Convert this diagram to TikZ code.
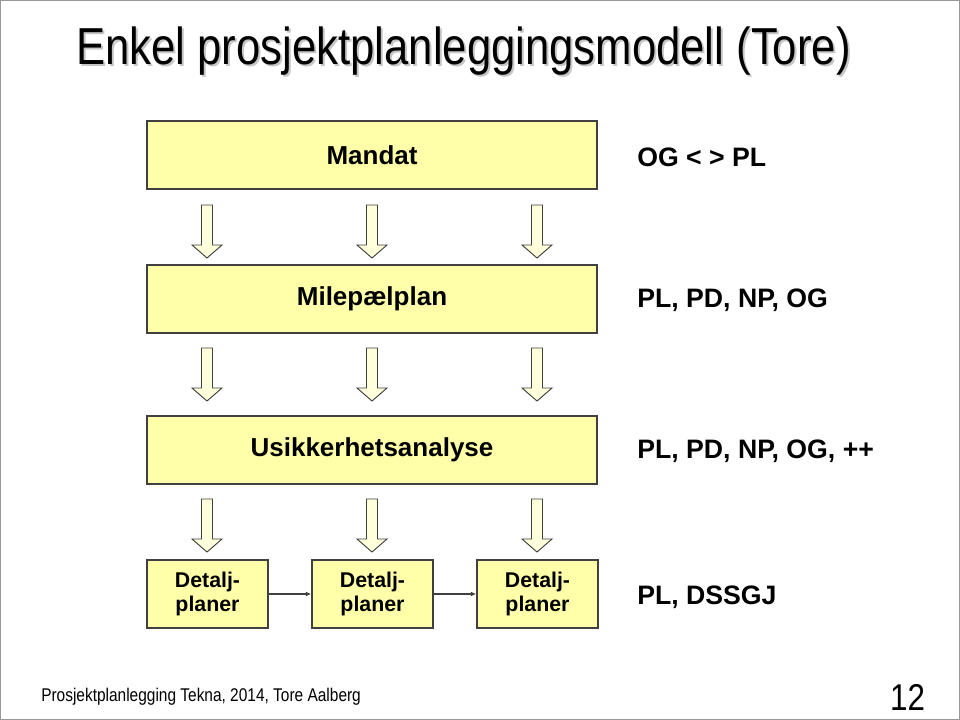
\documentclass[tikz,border=0pt]{standalone}
\usepackage{fontspec}
\setmainfont{Liberation Sans}
\newfontfamily\narrowfont[FakeStretch=0.84]{Liberation Sans}
\usetikzlibrary{arrows.meta,calc}
\definecolor{boxfill}{HTML}{FFFFAA}
\definecolor{arrowfill}{HTML}{FFFFDC}
\definecolor{edgegray}{HTML}{404040}
\begin{document}
\begin{tikzpicture}[x=0.75pt,y=-0.75pt,
  planbox/.style={draw=edgegray,line width=1.1pt,fill=boxfill,inner sep=0pt,
    minimum width=337.5pt,minimum height=51pt,
    font=\fontsize{19.5}{21}\selectfont\bfseries},
  smallbox/.style={planbox,minimum width=90.75pt,align=center,
    font=\fontsize{16}{18.5}\selectfont\bfseries},
  rolelabel/.style={anchor=west,inner sep=0pt,font=\fontsize{20}{22}\selectfont\bfseries},
  flow/.style={draw=edgegray,line width=0.9pt,-{Latex[length=4pt,width=3.5pt]}},
  blockarrow/.pic={\draw[draw=edgegray,line width=0.7pt,fill=arrowfill]
    (-5.5,0) -- (5.5,0) -- (5.5,40) -- (15,40) -- (0,53) -- (-15,40) -- (-5.5,40) -- cycle;}
]
\useasboundingbox (0,0) rectangle (960,720);
\draw[gray!80,line width=1pt] (0.7,0.7) rectangle (959.3,719.3);
% title with soft shadow
\node[text=gray!45,inner sep=0pt] at (465.5,53.5) {\narrowfont\fontsize{39}{44}\selectfont Enkel prosjektplanleggingsmodell (Tore)};
\node[inner sep=0pt] (title) at (463.5,51.5) {\narrowfont\fontsize{39}{44}\selectfont Enkel prosjektplanleggingsmodell (Tore)};
% main boxes
\node[planbox] (mandat) at (372,155) {Mandat};
\node[planbox] (mile) at (372,299) {Milepælplan};
\node[planbox] (usik) at (372,450) {Usikkerhetsanalyse};
\node[smallbox] (d1) at (207.5,594) {Detalj-\\planer};
\node[smallbox] (d2) at (372.5,594) {Detalj-\\planer};
\node[smallbox] (d3) at (537.5,594) {Detalj-\\planer};
% block arrows
\foreach \xx in {207,372,537}{
  \pic at (\xx,205) {blockarrow};
  \pic at (\xx,348) {blockarrow};
  \pic at (\xx,499) {blockarrow};
}
% flow connectors
\draw[flow] (d1) -- (d2);
\draw[flow] (d2) -- (d3);
% role labels
\node[rolelabel] (r1) at (637,157) {OG < > PL};
\node[rolelabel] (r2) at (637,300) {PL, PD, NP, OG};
\node[rolelabel] (r3) at (637,451) {PL, PD, NP, OG, ++};
\node[rolelabel] (r4) at (637,597) {PL, DSSGJ};
% footer
\node[anchor=west,inner sep=0pt] (foot) at (41,697) {\narrowfont\fontsize{13.8}{15}\selectfont Prosjektplanlegging Tekna, 2014, Tore Aalberg};
\node[inner sep=0pt] (page) at (907.5,697) {\narrowfont\fontsize{28}{32}\selectfont 12};
\end{tikzpicture}
\end{document}
